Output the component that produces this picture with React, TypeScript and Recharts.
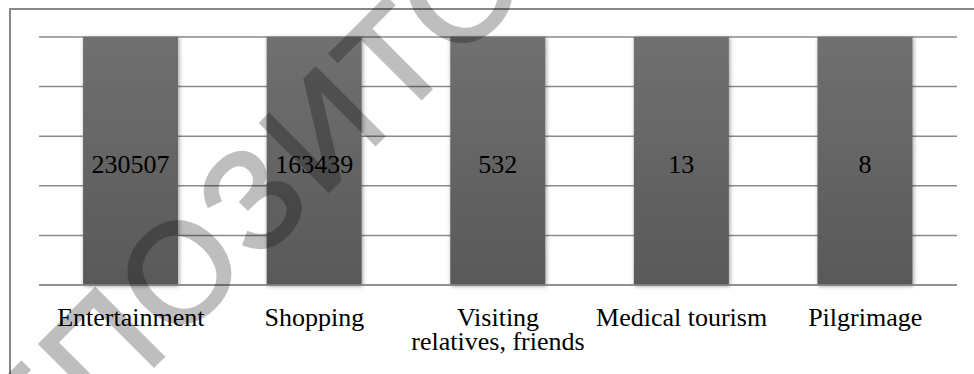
import { BarChart, Bar, XAxis, YAxis, CartesianGrid, LabelList } from 'recharts';

// Trips by purpose, each column drawn as its share of its own total (100%)
const purposes = ['Entertainment', 'Shopping', 'Visiting\nrelatives, friends', 'Medical tourism', 'Pilgrimage'];
const visits = [230507, 163439, 532, 13, 8];
const shareTicks = [0, 0.2, 0.4, 0.6, 0.8, 1];

const chartData = purposes.map((purpose, i) => ({ purpose, visits: visits[i] }));

const SERIF = '"Liberation Serif", "Times New Roman", serif';

const CategoryTick = ({ x, y, payload }: { x: number; y: number; payload: { value: string } }) => {
  const lines = String(payload.value).split('\n');
  return (
    <text x={x} y={y} textAnchor="middle" fontFamily={SERIF} fontSize={26} fill="#000">
      {lines.map((line, i) => (
        <tspan key={i} x={x} dy={i === 0 ? 41 : 24}>
          {line}
        </tspan>
      ))}
    </text>
  );
};

const ShadedBar = ({ x, y, width, height }: { x: number; y: number; width: number; height: number }) => (
  <rect x={x} y={y} width={width} height={height} fill="url(#barFill)" filter="url(#barShadow)" />
);

const App = () => {
  return (
    <div style={{ position: 'relative', width: 974, height: 374, overflow: 'hidden', background: '#fff' }}>
      <style>{'body { margin: 0; }'}</style>
      <div
        style={{
          position: 'absolute',
          left: 9,
          top: 8,
          width: 1000,
          height: 400,
          borderLeft: '2px solid #878787',
          borderTop: '2px solid #878787',
        }}
      />
      <div style={{ position: 'absolute', left: 0, top: 0 }}>
        <BarChart
          width={974}
          height={374}
          data={chartData}
          stackOffset="expand"
          barCategoryGap="24%"
          margin={{ top: 37, right: 17, bottom: 0, left: 39 }}
        >
          <defs>
            <linearGradient id="barFill" x1="0" y1="0" x2="0" y2="1">
              <stop offset="0%" stopColor="#707070" />
              <stop offset="100%" stopColor="#595959" />
            </linearGradient>
            <filter id="barShadow" x="-20%" y="-5%" width="140%" height="110%">
              <feDropShadow dx="1" dy="1" stdDeviation="2" floodColor="#000" floodOpacity="0.4" />
            </filter>
          </defs>
          <CartesianGrid vertical={false} stroke="#8a8a8a" strokeWidth={1.5} />
          <XAxis
            dataKey="purpose"
            height={89}
            interval={0}
            tickLine={false}
            tickSize={0}
            tickMargin={0}
            axisLine={{ stroke: '#8a8a8a', strokeWidth: 1.5 }}
            tick={CategoryTick}
          />
          <YAxis hide type="number" domain={[0, 1]} ticks={shareTicks} />
          <Bar dataKey="visits" stackId="share" shape={ShadedBar} isAnimationActive={false}>
            <LabelList
              dataKey="visits"
              position="center"
              fill="#000"
              fontSize={26}
              fontFamily={SERIF}
              dy={3}
            />
          </Bar>
        </BarChart>
      </div>
      {/* repository stamp across the chart */}
      <svg
        width={974}
        height={374}
        style={{ position: 'absolute', left: 0, top: 0, pointerEvents: 'none' }}
      >
        <text
          x={359}
          y={161}
          transform="rotate(-45 359 161)"
          textAnchor="middle"
          fontFamily='"Liberation Sans", Arial, sans-serif'
          fontSize={140}
          letterSpacing={6}
          fill="#000"
          stroke="#000"
          strokeWidth={3}
          opacity={0.25}
        >
          РЕПОЗИТОРИЙ
        </text>
      </svg>
    </div>
  );
};

export default App;
